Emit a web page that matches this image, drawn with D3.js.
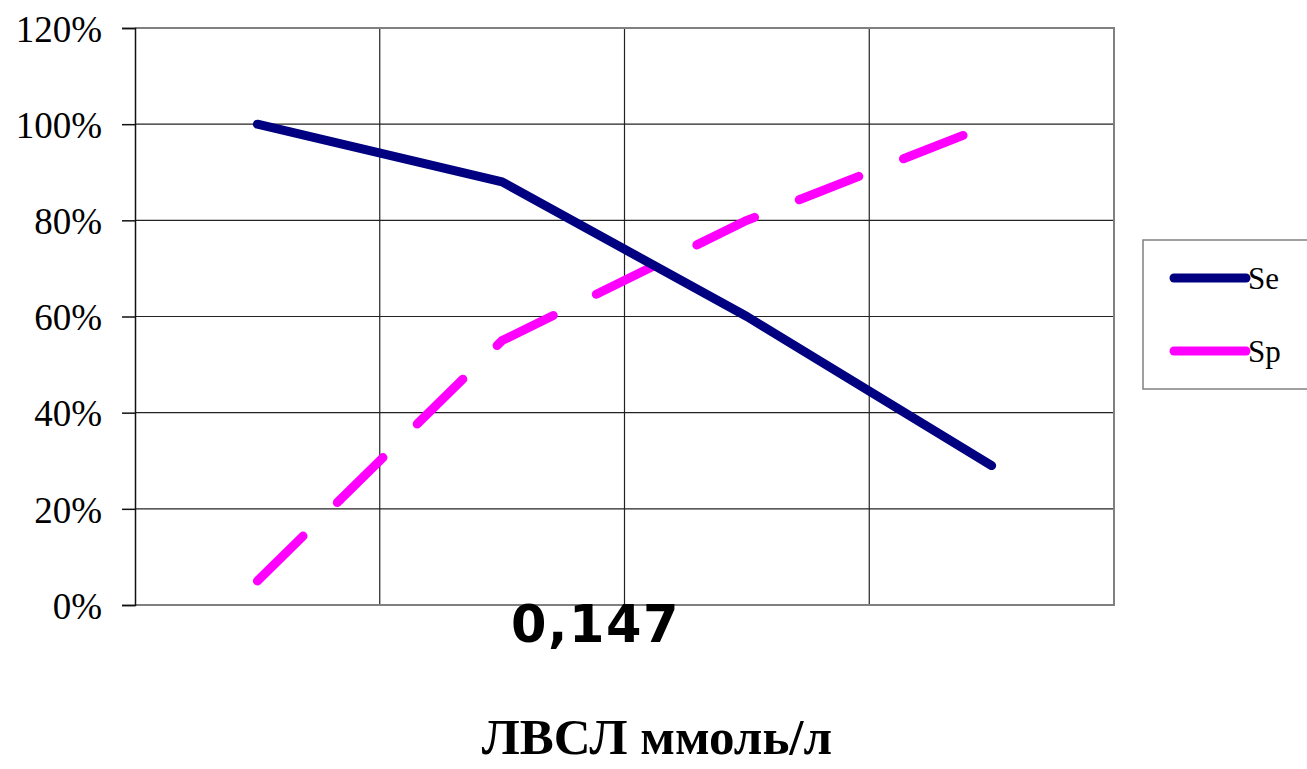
<!DOCTYPE html>
<html>
<head>
<meta charset="utf-8">
<script src="https://cdn.jsdelivr.net/npm/d3@7"></script>
<style>
  body { margin: 0; background: #fff; }
  svg { display: block; }
  .serif { font-family: "Liberation Serif", "Times New Roman", serif; }
</style>
</head>
<body>
<div id="chart"></div>
<script>
// categories along x (no tick labels shown in the original)
var categories = ["c1", "c2", "c3", "c4"];
// Se / Sp values in %
var seValues = [100, 88, 60, 29];
var spValues = [5, 55, 80, 100];
var yTicks = [0, 20, 40, 60, 80, 100, 120];
var seriesNames = ["Se", "Sp"];
var cutoffLabel = "0,147";
var axisTitle = "ЛВСЛ ммоль/л";

var W = 1307, H = 769;
var margin = {top: 28, right: 193, bottom: 164, left: 135};
var width = W - margin.left - margin.right,
    height = H - margin.top - margin.bottom;

var svg = d3.select("#chart").append("svg")
    .attr("width", W)
    .attr("height", H);

var g = svg.append("g")
    .attr("transform", "translate(" + margin.left + "," + margin.top + ")");

var x = d3.scaleBand().domain(categories).range([0, width]);
var y = d3.scaleLinear().domain([0, 120]).range([height, 0]);

// horizontal gridlines
g.selectAll(".hgrid")
    .data(yTicks.filter(function(d) { return d > 0 && d < 120; }))
  .enter().append("line")
    .attr("x1", 0).attr("x2", width)
    .attr("y1", function(d) { return y(d); })
    .attr("y2", function(d) { return y(d); })
    .attr("stroke", "#222")
    .attr("stroke-width", 1.2);

// vertical gridlines between categories
g.selectAll(".vgrid")
    .data(categories.slice(1))
  .enter().append("line")
    .attr("x1", function(d) { return x(d); })
    .attr("x2", function(d) { return x(d); })
    .attr("y1", 0).attr("y2", height)
    .attr("stroke", "#222")
    .attr("stroke-width", 1.2);

// plot border (grey top/right/bottom)
g.append("path")
    .attr("d", "M0," + y(120) + "H" + width + "V" + height + "H0")
    .attr("fill", "none")
    .attr("stroke", "#808080")
    .attr("stroke-width", 2);

// y axis
var yAxis = g.append("g")
    .call(d3.axisLeft(y).tickValues(yTicks).tickSize(13).tickPadding(20)
      .tickFormat(function(d) { return d + "%"; }));
yAxis.attr("font-family", null);
yAxis.select(".domain").attr("stroke", "#111").attr("stroke-width", 1.5);
yAxis.selectAll(".tick line").attr("stroke", "#111").attr("stroke-width", 1.5);
yAxis.selectAll("text")
    .attr("class", "serif")
    .attr("font-size", 37)
    .attr("fill", "#000")
    .attr("dy", "0.36em");

var line = d3.line()
    .x(function(d, i) { return x(categories[i]) + x.bandwidth() / 2; })
    .y(function(d) { return y(d); });

g.append("path")
    .datum(spValues)
    .attr("d", line)
    .attr("fill", "none")
    .attr("stroke", "#ff00ff")
    .attr("stroke-width", 9)
    .attr("stroke-linecap", "round")
    .attr("stroke-linejoin", "round")
    .attr("stroke-dasharray", "64,48");

g.append("path")
    .datum(seValues)
    .attr("d", line)
    .attr("fill", "none")
    .attr("stroke", "#000080")
    .attr("stroke-width", 9)
    .attr("stroke-linecap", "round")
    .attr("stroke-linejoin", "round");

// cutoff annotation under the 2nd/3rd category boundary
g.append("text")
    .attr("x", x(categories[2]) - 29)
    .attr("y", height + 37)
    .attr("text-anchor", "middle")
    .attr("font-family", "'DejaVu Sans', Verdana, sans-serif")
    .attr("font-weight", "bold")
    .attr("font-size", 51)
    .attr("letter-spacing", 1.5)
    .attr("fill", "#000")
    .text(cutoffLabel);

// axis title
svg.append("text")
    .attr("class", "serif")
    .attr("x", 657)
    .attr("y", 754)
    .attr("text-anchor", "middle")
    .attr("font-weight", "bold")
    .attr("font-size", 51)
    .attr("fill", "#000")
    .text(axisTitle);

// legend
var legend = svg.append("g").attr("transform", "translate(1143,240)");
legend.append("rect")
    .attr("width", 170).attr("height", 149)
    .attr("fill", "#fff")
    .attr("stroke", "#808080")
    .attr("stroke-width", 1.5);

var colors = ["#000080", "#ff00ff"];
var item = legend.selectAll(".item")
    .data(seriesNames)
  .enter().append("g")
    .attr("transform", function(d, i) { return "translate(0," + (38 + i * 73) + ")"; });
item.append("line")
    .attr("x1", 31).attr("x2", 103)
    .attr("stroke", function(d, i) { return colors[i]; })
    .attr("stroke-width", 9)
    .attr("stroke-linecap", "round");
item.append("text")
    .attr("class", "serif")
    .attr("x", 105)
    .attr("dy", "0.36em")
    .attr("font-size", 31)
    .attr("fill", "#000")
    .text(function(d) { return d; });
</script>
</body>
</html>
